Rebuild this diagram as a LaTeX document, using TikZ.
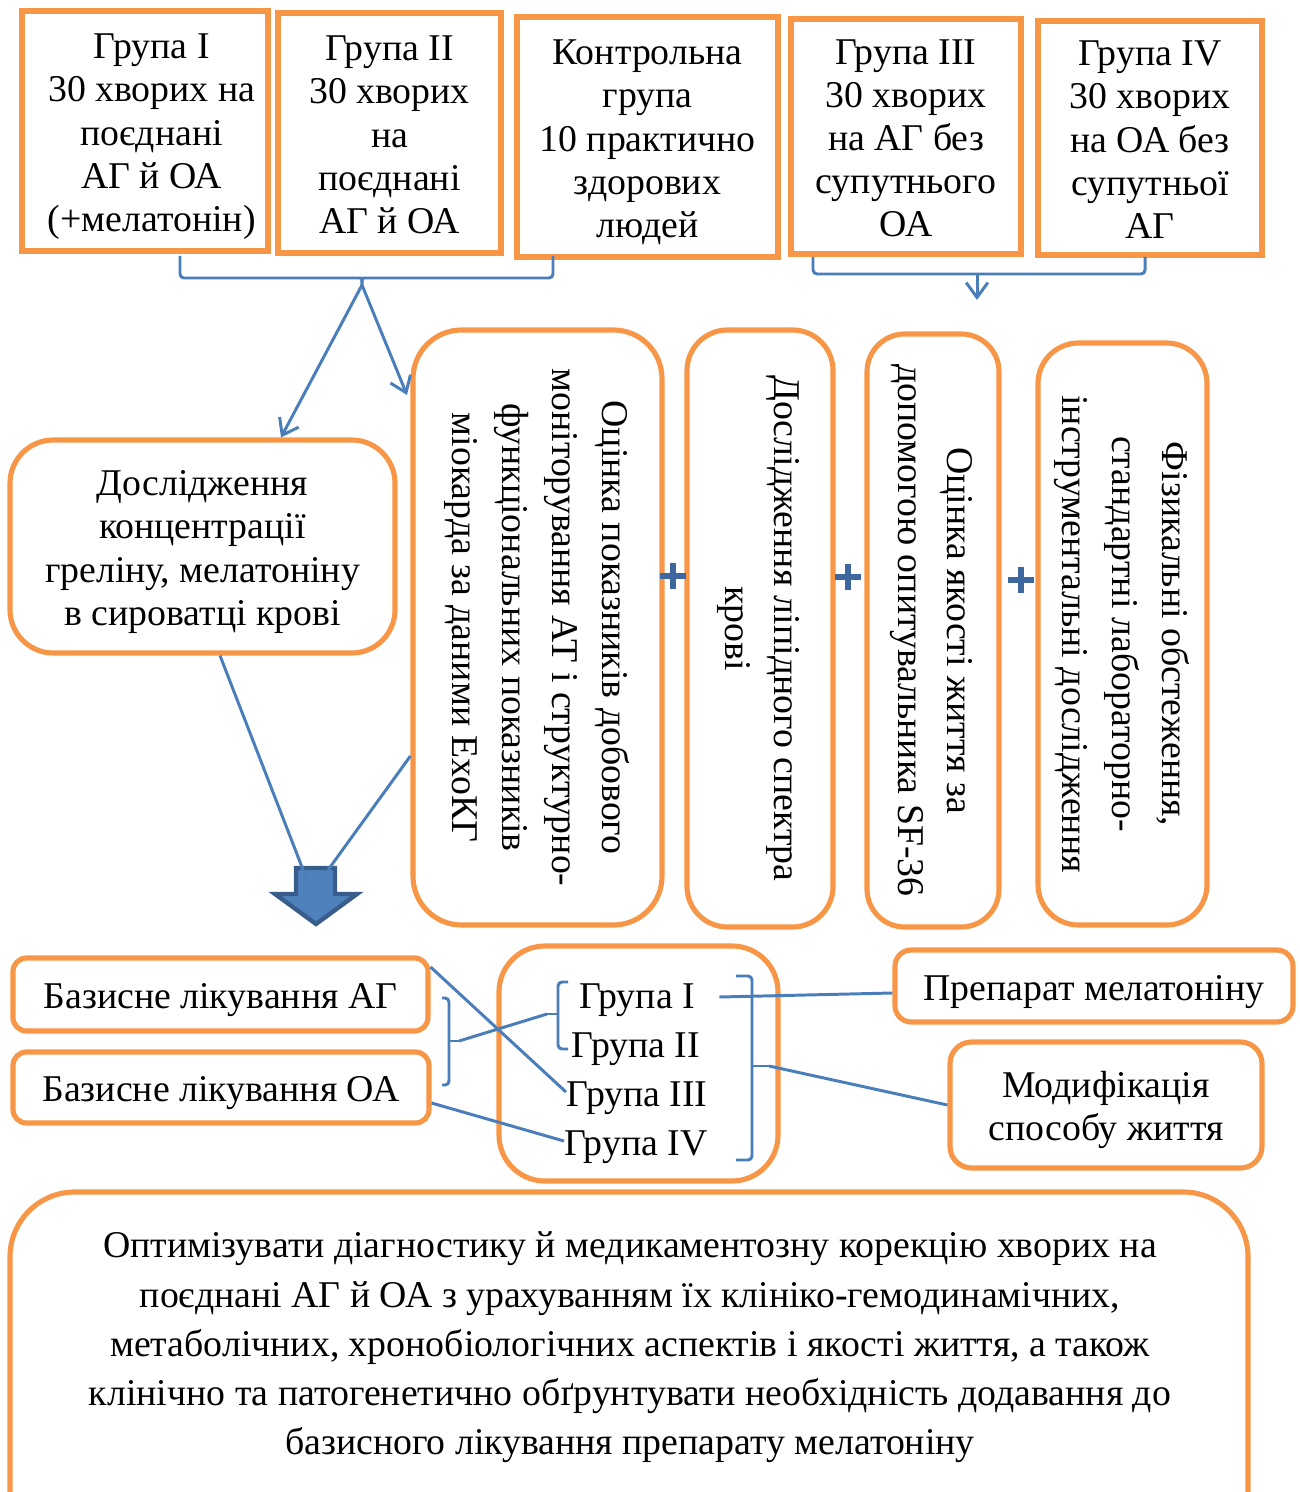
\documentclass[tikz,border=0pt]{standalone}
\usepackage{fontspec}
\setmainfont{Liberation Serif}
\usetikzlibrary{arrows.meta,calc}
\definecolor{orng}{HTML}{F79646}
\definecolor{lnblue}{HTML}{4A7EBB}
\definecolor{plusblue}{HTML}{3D679E}
\definecolor{arrfill}{HTML}{4F81BD}
\definecolor{arrdraw}{HTML}{385D8A}
\newcommand{\pxu}{0.3704pt}
\newcommand{\ctab}[2][0pt]{\raisebox{-2pt}[\height][\depth]{\begin{tabular}{@{\hspace{#1}}c@{}}#2\end{tabular}}}
\newcommand{\vtext}[1]{\rotatebox{-90}{\fontsize{14}{18.5}\selectfont\begin{tabular}{@{}c@{}}#1\end{tabular}}}
\begin{document}
\begin{tikzpicture}[x=0.3704pt, y=-0.3704pt,
  font=\fontsize{14}{16}\selectfont,
  sqbox/.style={draw=orng, line width=1.9pt, fill=white, align=center, inner sep=0pt},
  rbox/.style={sqbox, rounded corners=#1},
  lbl/.style={inner sep=0pt, align=center},
  bln/.style={draw=lnblue, line width=1.1pt},
  brk/.style={bln, rounded corners=1.5pt},
  arr/.style={bln, -{Straight Barb[length=5.5pt, width=8pt, line width=1.1pt]}},
  plusmark/.style={draw=plusblue, line width=2.2pt}
]
\useasboundingbox (0,0) rectangle (1299,1492);
\clip (0,0) rectangle (1299,1492);

% ---------- top group boxes ----------
\node[sqbox, minimum width=246*\pxu, minimum height=240*\pxu] (g1) at (145,131)
  {\ctab[5pt]{Група I\\30 хворих на\\поєднані\\АГ й ОА\\(+мелатонін)}};
\node[sqbox, minimum width=223*\pxu, minimum height=240*\pxu] (g2) at (389.5,133)
  {\ctab{Група II\\30 хворих\\на\\поєднані\\АГ й ОА}};
\node[sqbox, minimum width=261*\pxu, minimum height=240*\pxu] (ctrl) at (647.5,137)
  {\ctab{Контрольна\\група\\10 практично\\здорових\\людей}};
\node[sqbox, minimum width=230*\pxu, minimum height=235*\pxu] (g3) at (906,136.5)
  {\ctab{Група III\\30 хворих\\на АГ без\\супутнього\\ОА}};
\node[sqbox, minimum width=224*\pxu, minimum height=234*\pxu] (g4) at (1150,138)
  {\ctab{Група IV\\30 хворих\\на ОА без\\супутньої\\АГ}};

% ---------- braces under the top boxes ----------
\coordinate (ltip) at (362,285);
\draw[brk] (180,256) -- (180,278) -- (355,278) .. controls (362,278) .. (ltip);
\draw[brk] (553,256) -- (553,278) -- (369,278) .. controls (362,278) .. (ltip);
\coordinate (rtip) at (977,274);
\coordinate (rend) at (977,300);
\draw[brk] (813,257) -- (813,274) -- (1145,274) -- (1145,257);
\draw[arr] (rtip) -- (rend);

% ---------- middle boxes ----------
\node[rbox=16pt, minimum width=385*\pxu, minimum height=213*\pxu] (ghrelin) at (202.5,546.5)
  {\ctab{Дослідження\\концентрації\\греліну, мелатоніну\\в сироватці крові}};
\node[rbox=18pt, minimum width=249*\pxu, minimum height=595*\pxu] (vA) at (537.5,627.5)
  {\vtext{Оцінка показників добового\\моніторування АТ і структурно-\\функціональних показників\\міокарда за даними ЕхоКГ}};
\node[rbox=15pt, minimum width=146*\pxu, minimum height=597*\pxu] (vB) at (760,628.5)
  {\vtext{Дослідження ліпідного спектра\\крові}};
\node[rbox=14pt, minimum width=132*\pxu, minimum height=593*\pxu] (vC) at (933,630.5)
  {\vtext{Оцінка якості життя за\\допомогою опитувальника SF-36}};
\node[rbox=15pt, minimum width=169*\pxu, minimum height=582*\pxu] (vD) at (1122.5,634)
  {\vtext{Фізикальні обстеження,\\стандартні лабораторно-\\інструментальні дослідження}};

% plus signs
\draw[plusmark] (673,563) -- (673,589) (660,576) -- (686,576);
\draw[plusmark] (848,564) -- (848,590) (835,577) -- (861,577);
\draw[plusmark] (1021,567) -- (1021,593) (1008,580) -- (1034,580);

% arrows from the left brace
\coordinate (aend) at (407,395);
\draw[arr] (ltip) -- (281,0 |- ghrelin.north);
\draw[arr] (ltip) -- (aend);

% ---------- block arrow ----------
\filldraw[fill=arrfill, draw=arrdraw, line width=1.6pt, line join=miter]
  (296,868) -- (335,868) -- (335,894) -- (357,894) -- (316,924) -- (275,894) -- (296,894) -- cycle;
\coordinate (barL) at (307,880);
\coordinate (barR) at (328,870);
\draw[bln] (220,0 |- ghrelin.south) -- (barL);
\draw[bln] (vA.west |- 0,756) -- (barR);

% ---------- bottom treatment part ----------
\node[rbox=5pt, minimum width=415*\pxu, minimum height=73*\pxu] (bAG) at (220.5,994.5)
  {\ctab{Базисне лікування АГ}};
\node[rbox=5pt, minimum width=416*\pxu, minimum height=71*\pxu] (bOA) at (221,1087.5)
  {\ctab{Базисне лікування ОА}};
\node[rbox=17pt, minimum width=279*\pxu, minimum height=235*\pxu] (grp) at (638.5,1063.5) {};
\node[lbl] (gl1) at (637,994) {\ctab{Група I}};
\node[lbl] (gl2) at (636,1043) {\ctab{Група II}};
\node[lbl] (gl3) at (637,1092) {\ctab{Група III}};
\node[lbl] (gl4) at (636,1141) {\ctab{Група IV}};
\node[rbox=6pt, minimum width=398*\pxu, minimum height=72*\pxu] (prep) at (1094,986)
  {\ctab{Препарат мелатоніну}};
\node[rbox=8pt, minimum width=312*\pxu, minimum height=126*\pxu] (mod) at (1106,1105)
  {\ctab{Модифікація\\способу життя}};

% brackets
\coordinate (b1tip) at (459,1041);
\coordinate (b2tip) at (547,1014);
\coordinate (b3tip) at (769,1066);
\draw[brk] (442,998) -- (449,998) -- (449,1085) -- (442,1085);
\draw[bln] (449,1041) -- (b1tip);
\draw[brk] (568,982) -- (558,982) -- (558,1049) -- (568,1049);
\draw[bln] (558,1014) -- (b2tip);
\draw[brk] (736,976) -- (752,976) -- (752,1160) -- (736,1160);
\draw[bln] (752,1066) -- (b3tip);

% connectors
\draw[bln] (b1tip) -- (b2tip);
\draw[bln] (bAG.east |- 0,967) -- (gl3.west);
\draw[bln] (bOA.east |- 0,1103) -- (gl4.west);
\draw[bln] ($(gl1.east)+(24,3)$) -- (prep.west |- 0,993);
\draw[bln] (b3tip) -- (mod.west);

% ---------- goal box ----------
\draw[draw=orng, line width=1.9pt, fill=white, rounded corners=24pt] (10,1192) rectangle (1248,1570);
\node[lbl, font=\fontsize{14}{18.2}\selectfont] (goal) at (630,1341)
  {\ctab{Оптимізувати діагностику й медикаментозну корекцію хворих на\\
   поєднані АГ й ОА з урахуванням їх клініко-гемодинамічних,\\
   метаболічних, хронобіологічних аспектів і якості життя, а також\\
   клінічно та патогенетично обґрунтувати необхідність додавання до\\
   базисного лікування препарату мелатоніну}};
\end{tikzpicture}
\end{document}
